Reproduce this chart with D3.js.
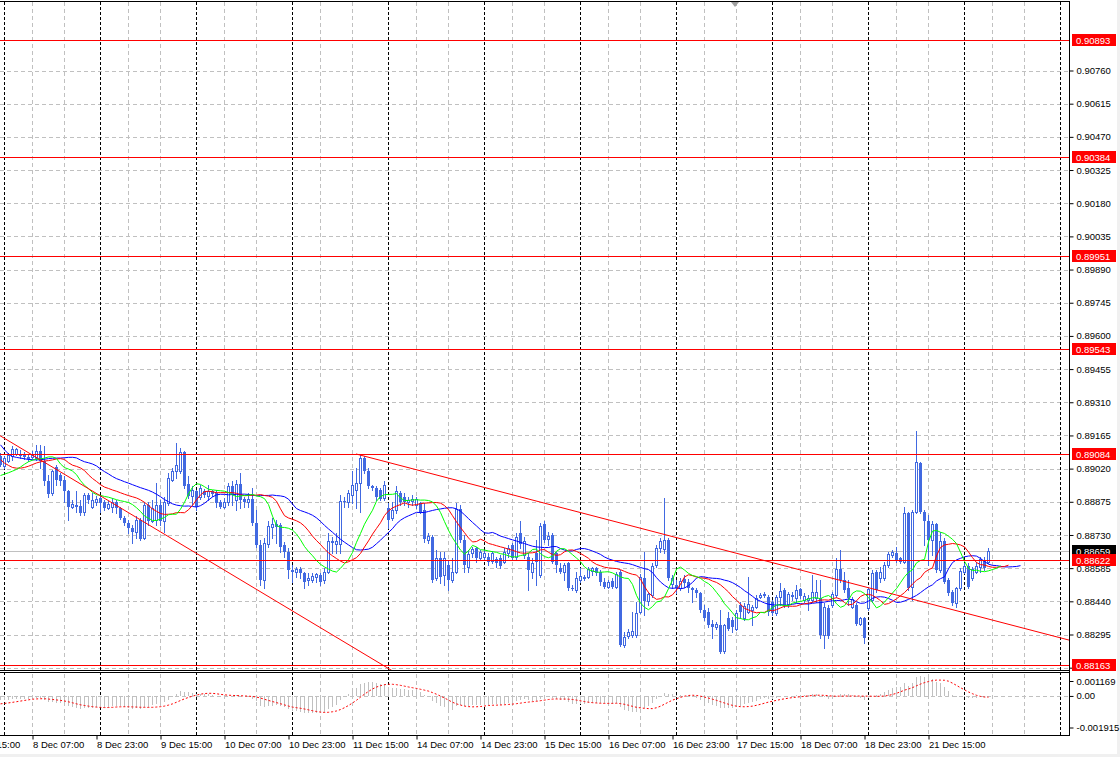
<!DOCTYPE html>
<html><head><meta charset="utf-8">
<script src="https://cdn.jsdelivr.net/npm/d3@7"></script>
<style>body{margin:0;background:#fff}svg{display:block}</style>
</head><body><script>
// ---------------- DATA (H1 bars, 7 Dec 23:00 .. 22 Dec 06:00) ----------------
const openP = [
0.89073,0.89030,0.89054,0.89073,0.89086,0.89086,0.89081,0.89072,0.89072,0.89066,
0.89098,0.89054,0.88967,0.88913,0.89025,0.88990,0.88971,0.88920,0.88854,0.88862,
0.88857,0.88829,0.88905,0.88854,0.88873,0.88891,0.88872,0.88850,0.88854,0.88873,
0.88847,0.88806,0.88784,0.88759,0.88742,0.88796,0.88716,0.88859,0.88792,0.88796,
0.88862,0.88789,0.88869,0.88971,0.89008,0.89008,0.89092,0.88952,0.88902,0.88920,
0.88898,0.88920,0.88902,0.88920,0.88913,0.88873,0.88854,0.88873,0.88946,0.88884,
0.88952,0.88888,0.88873,0.88888,0.88781,0.88684,0.88533,0.88689,0.88767,0.88777,
0.88774,0.88684,0.88657,0.88577,0.88570,0.88581,0.88562,0.88533,0.88533,0.88548,
0.88555,0.88533,0.88570,0.88704,0.88689,0.88689,0.88879,0.88876,0.88905,0.88927,
0.88957,0.89066,0.89008,0.88942,0.88935,0.88927,0.88891,0.88847,0.88803,0.88840,
0.88913,0.88898,0.88873,0.88879,0.88862,0.88869,0.88840,0.88708,0.88723,0.88540,
0.88628,0.88555,0.88599,0.88533,0.88570,0.88844,0.88708,0.88592,0.88650,0.88672,
0.88631,0.88635,0.88635,0.88616,0.88625,0.88631,0.88613,0.88650,0.88684,0.88635,
0.88737,0.88643,0.88635,0.88570,0.88650,0.88555,0.88777,0.88713,0.88730,0.88650,
0.88587,0.88570,0.88606,0.88500,0.88489,0.88533,0.88540,0.88548,0.88573,0.88584,
0.88570,0.88526,0.88504,0.88529,0.88504,0.88567,0.88251,0.88289,0.88292,0.88292,
0.88394,0.88543,0.88441,0.88467,0.88599,0.88672,0.88669,0.88708,0.88514,0.88511,
0.88497,0.88537,0.88526,0.88497,0.88489,0.88475,0.88402,0.88394,0.88343,0.88329,
0.88336,0.88222,0.88365,0.88358,0.88318,0.88424,0.88365,0.88394,0.88402,0.88416,
0.88460,0.88467,0.88460,0.88435,0.88387,0.88460,0.88489,0.88427,0.88467,0.88453,
0.88494,0.88445,0.88445,0.88445,0.88453,0.88453,0.88295,0.88412,0.88424,0.88467,
0.88581,0.88533,0.88497,0.88416,0.88424,0.88343,0.88368,0.88409,0.88445,0.88570,
0.88540,0.88540,0.88599,0.88643,0.88650,0.88628,0.88613,0.88825,0.88504,0.88832,
0.89044,0.88829,0.88789,0.88708,0.88777,0.88577,0.88704,0.88533,0.88482,0.88431,
0.88497,0.88570,0.88596,0.88540,0.88570,0.88592,0.88621,0.88613];
const highP = [
0.89088,0.89073,0.89088,0.89117,0.89110,0.89102,0.89092,0.89081,0.89095,0.89124,
0.89124,0.89121,0.88993,0.89015,0.89037,0.89000,0.88986,0.88927,0.88884,0.88920,
0.88884,0.88913,0.88913,0.88913,0.88902,0.88905,0.88884,0.88879,0.88891,0.88884,
0.88854,0.88815,0.88796,0.88774,0.88811,0.88803,0.88873,0.88876,0.88884,0.88957,
0.88884,0.88898,0.89000,0.89022,0.89132,0.89110,0.89098,0.88986,0.88942,0.88927,
0.88949,0.88932,0.88949,0.88927,0.88927,0.88884,0.88891,0.88957,0.88964,0.88971,
0.89000,0.88894,0.88913,0.88935,0.88840,0.88708,0.88716,0.88789,0.88803,0.88796,
0.88781,0.88701,0.88672,0.88599,0.88592,0.88592,0.88570,0.88562,0.88562,0.88562,
0.88562,0.88584,0.88737,0.88723,0.88737,0.88905,0.88898,0.88927,0.89008,0.89022,
0.89081,0.89073,0.89022,0.88949,0.88942,0.88935,0.88964,0.88869,0.88876,0.88942,
0.88920,0.88913,0.88898,0.88905,0.88898,0.88876,0.88869,0.88737,0.88730,0.88665,
0.88657,0.88657,0.88621,0.88628,0.88869,0.88862,0.88730,0.88665,0.88679,0.88679,
0.88665,0.88665,0.88650,0.88660,0.88635,0.88643,0.88672,0.88686,0.88694,0.88737,
0.88789,0.88723,0.88650,0.88628,0.88708,0.88781,0.88789,0.88742,0.88737,0.88657,
0.88606,0.88606,0.88613,0.88511,0.88570,0.88584,0.88555,0.88592,0.88592,0.88592,
0.88577,0.88540,0.88533,0.88540,0.88570,0.88577,0.88307,0.88318,0.88394,0.88438,
0.88558,0.88657,0.88482,0.88606,0.88686,0.88716,0.88891,0.88716,0.88555,0.88533,
0.88543,0.88555,0.88537,0.88504,0.88500,0.88482,0.88424,0.88409,0.88358,0.88351,
0.88402,0.88343,0.88394,0.88372,0.88402,0.88438,0.88431,0.88548,0.88424,0.88467,
0.88475,0.88482,0.88467,0.88445,0.88467,0.88519,0.88497,0.88482,0.88482,0.88511,
0.88500,0.88475,0.88467,0.88555,0.88533,0.88533,0.88431,0.88424,0.88482,0.88628,
0.88665,0.88570,0.88533,0.88460,0.88431,0.88372,0.88372,0.88504,0.88577,0.88577,
0.88592,0.88613,0.88657,0.88665,0.88679,0.88635,0.88854,0.88832,0.88840,0.89183,
0.89048,0.88840,0.88818,0.88789,0.88781,0.88745,0.88716,0.88540,0.88489,0.88504,
0.88584,0.88606,0.88606,0.88592,0.88613,0.88635,0.88635,0.88672];
const lowP = [
0.89030,0.89022,0.89048,0.89059,0.89078,0.89066,0.89063,0.89054,0.89066,0.89059,
0.89022,0.88949,0.88898,0.88905,0.88949,0.88949,0.88876,0.88796,0.88847,0.88829,
0.88818,0.88818,0.88869,0.88847,0.88862,0.88832,0.88840,0.88844,0.88832,0.88825,
0.88800,0.88774,0.88737,0.88694,0.88716,0.88708,0.88713,0.88774,0.88786,0.88774,
0.88774,0.88745,0.88862,0.88964,0.88978,0.89000,0.88935,0.88891,0.88862,0.88840,
0.88888,0.88898,0.88884,0.88902,0.88854,0.88847,0.88847,0.88862,0.88862,0.88840,
0.88847,0.88854,0.88854,0.88774,0.88679,0.88511,0.88497,0.88679,0.88716,0.88694,
0.88657,0.88635,0.88540,0.88526,0.88548,0.88540,0.88497,0.88511,0.88526,0.88526,
0.88511,0.88519,0.88562,0.88650,0.88650,0.88650,0.88854,0.88854,0.88869,0.88847,
0.88832,0.89000,0.88935,0.88927,0.88884,0.88884,0.88884,0.88759,0.88796,0.88825,
0.88862,0.88862,0.88854,0.88862,0.88847,0.88825,0.88701,0.88694,0.88526,0.88533,
0.88519,0.88511,0.88489,0.88526,0.88562,0.88701,0.88570,0.88570,0.88635,0.88613,
0.88621,0.88621,0.88599,0.88606,0.88592,0.88584,0.88606,0.88635,0.88621,0.88621,
0.88672,0.88628,0.88489,0.88540,0.88511,0.88548,0.88701,0.88686,0.88606,0.88570,
0.88562,0.88533,0.88489,0.88489,0.88482,0.88526,0.88533,0.88540,0.88555,0.88555,
0.88511,0.88497,0.88497,0.88497,0.88497,0.88245,0.88241,0.88278,0.88285,0.88285,
0.88387,0.88380,0.88424,0.88460,0.88592,0.88657,0.88650,0.88533,0.88497,0.88475,
0.88489,0.88504,0.88482,0.88438,0.88460,0.88394,0.88358,0.88329,0.88278,0.88321,
0.88212,0.88216,0.88314,0.88307,0.88314,0.88365,0.88358,0.88387,0.88336,0.88409,
0.88453,0.88460,0.88380,0.88380,0.88380,0.88424,0.88416,0.88416,0.88445,0.88438,
0.88453,0.88438,0.88402,0.88438,0.88438,0.88278,0.88234,0.88280,0.88416,0.88460,
0.88526,0.88482,0.88424,0.88409,0.88336,0.88336,0.88256,0.88402,0.88438,0.88482,
0.88526,0.88533,0.88592,0.88635,0.88613,0.88606,0.88606,0.88489,0.88445,0.88825,
0.88825,0.88686,0.88599,0.88643,0.88570,0.88570,0.88519,0.88467,0.88424,0.88416,
0.88489,0.88562,0.88497,0.88533,0.88562,0.88570,0.88577,0.88606];
const closeP = [
0.89037,0.89066,0.89078,0.89107,0.89104,0.89075,0.89070,0.89063,0.89081,0.89098,
0.89054,0.88964,0.88908,0.89008,0.88971,0.88964,0.88920,0.88854,0.88865,0.88851,
0.88825,0.88905,0.88884,0.88884,0.88888,0.88869,0.88850,0.88867,0.88876,0.88847,
0.88806,0.88781,0.88759,0.88742,0.88796,0.88713,0.88862,0.88792,0.88847,0.88862,
0.88789,0.88876,0.88978,0.89008,0.89037,0.89092,0.88942,0.88902,0.88927,0.88854,
0.88935,0.88905,0.88924,0.88908,0.88869,0.88854,0.88873,0.88946,0.88905,0.88952,
0.88884,0.88876,0.88888,0.88781,0.88686,0.88533,0.88694,0.88771,0.88777,0.88767,
0.88679,0.88657,0.88577,0.88567,0.88581,0.88562,0.88526,0.88543,0.88552,0.88558,
0.88526,0.88567,0.88704,0.88694,0.88704,0.88879,0.88876,0.88913,0.88949,0.88957,
0.89066,0.89008,0.88942,0.88935,0.88894,0.88888,0.88949,0.88796,0.88840,0.88923,
0.88873,0.88873,0.88884,0.88888,0.88888,0.88832,0.88713,0.88727,0.88533,0.88631,
0.88548,0.88631,0.88533,0.88567,0.88844,0.88708,0.88599,0.88646,0.88669,0.88628,
0.88654,0.88650,0.88613,0.88650,0.88606,0.88596,0.88654,0.88675,0.88631,0.88719,
0.88689,0.88704,0.88577,0.88606,0.88613,0.88771,0.88708,0.88727,0.88613,0.88599,
0.88570,0.88599,0.88497,0.88497,0.88543,0.88552,0.88546,0.88581,0.88584,0.88562,
0.88523,0.88504,0.88526,0.88504,0.88558,0.88248,0.88285,0.88304,0.88310,0.88391,
0.88548,0.88441,0.88470,0.88596,0.88675,0.88704,0.88708,0.88540,0.88543,0.88497,
0.88529,0.88519,0.88497,0.88489,0.88475,0.88402,0.88365,0.88336,0.88329,0.88339,
0.88219,0.88336,0.88321,0.88329,0.88391,0.88394,0.88421,0.88427,0.88416,0.88453,
0.88467,0.88472,0.88394,0.88387,0.88457,0.88486,0.88424,0.88472,0.88460,0.88491,
0.88464,0.88464,0.88456,0.88482,0.88482,0.88295,0.88416,0.88289,0.88470,0.88581,
0.88533,0.88489,0.88456,0.88450,0.88343,0.88365,0.88278,0.88494,0.88562,0.88489,
0.88570,0.88599,0.88646,0.88654,0.88621,0.88613,0.88825,0.88500,0.88829,0.89048,
0.88832,0.88789,0.88708,0.88777,0.88577,0.88704,0.88526,0.88475,0.88431,0.88497,
0.88573,0.88596,0.88504,0.88581,0.88596,0.88625,0.88584,0.88659];

// Alligator: values on screen before the first bar's own value (lead) and start values
const jawLead   = [0.89124,0.89102,0.89084,0.89073,0.89069,0.89066,0.89063,0.89060];
const teethLead = [0.89059,0.89044,0.89034,0.89025,0.89022];
const lipsLead  = [0.88990,0.88996,0.89002];
const jawStart = 0.89059, teethStart = 0.89022, lipsStart = 0.89009;
// MACD(12,26,9) start state (EMA offsets from the first close) and earlier main values
const emaFastStart = 0.00040, emaSlowStart = 0.00060, macdBefore = -0.00040;

const priceTicks = [0.88150,0.88295,0.88440,0.88585,0.88730,0.88875,0.89020,0.89165,0.89310,0.89455,
  0.89600,0.89745,0.89890,0.90035,0.90180,0.90325,0.90470,0.90615,0.90760];
const levelPrices = [0.90893,0.90384,0.89951,0.89543,0.89084,0.88622,0.88163];
const macdTicks = [0.001169, 0, -0.001915];
const timeLabels = ["7 Dec 15:00","8 Dec 07:00","8 Dec 23:00","9 Dec 15:00","10 Dec 07:00","10 Dec 23:00",
  "11 Dec 15:00","14 Dec 07:00","14 Dec 23:00","15 Dec 15:00","16 Dec 07:00","16 Dec 23:00",
  "17 Dec 15:00","18 Dec 07:00","18 Dec 23:00","21 Dec 15:00"];
const timeLabelBars = [-8,8,24,40,56,72,88,104,120,136,152,168,184,200,216,232];
const gridBars = [8,16,32,40,56,64,80,88,104,112,128,136,152,160,176,184,200,208,224,232,248,256];
const separatorBars = [1,25,49,73,97,121,145,169,193,217,241,265];
const trendLines = [
  {b1:0,  p1:0.89164, b2:90,  p2:0.88221, from:-6, to:120},
  {b1:89, p1:0.89084, b2:240, p2:0.88395, from:89, to:268}
];
const shiftMarkBar = 183.75;

// ---------------- LAYOUT ----------------
const W = 1120, H = 757, plotR = 1069;
const mainTop = 2, mainBot = 670, indTop = 673.5, indBot = 734, axisY = 735.5;
const BLUE = "#4169E1";
const FONT = "'Liberation Sans', Arial, sans-serif";

const svg = d3.select("body").append("svg").attr("width", W).attr("height", H)
  .attr("font-family", FONT);
svg.append("rect").attr("width", W).attr("height", H).attr("fill", "#fff");

const x = d3.scaleLinear().domain([0, 267.25]).range([0, plotR]);
const y = d3.scaleLinear().domain([0.88295, 0.90760]).range([634.5, 70.5]);
const yM = d3.scaleLinear().domain([-0.001915, 0.001169]).range([indBot, indTop]);
const px = b => Math.round(x(b)) + 0.5;

const defs = svg.append("defs");
defs.append("clipPath").attr("id", "cm").append("rect")
  .attr("x", 0).attr("y", mainTop).attr("width", plotR).attr("height", mainBot - mainTop);
defs.append("clipPath").attr("id", "ci").append("rect")
  .attr("x", 0).attr("y", indTop - 1).attr("width", plotR).attr("height", indBot - indTop + 2);

// grids
const gGrid = svg.append("g");
gGrid.selectAll("line.h").data(priceTicks).join("line")
  .attr("x1", 0).attr("x2", plotR)
  .attr("y1", d => Math.round(y(d)) + 0.5).attr("y2", d => Math.round(y(d)) + 0.5)
  .attr("stroke", "#c0c0c0").attr("stroke-dasharray", "4,3");
gGrid.append("line").attr("x1", 0).attr("x2", plotR)
  .attr("y1", Math.round(yM(0)) + 0.5).attr("y2", Math.round(yM(0)) + 0.5)
  .attr("stroke", "#c0c0c0").attr("stroke-dasharray", "4,3");
gGrid.selectAll("line.v").data(gridBars).join("line")
  .attr("x1", d => px(d)).attr("x2", d => px(d))
  .attr("y1", mainTop).attr("y2", axisY)
  .attr("stroke", "#c0c0c0").attr("stroke-dasharray", "4,3");
gGrid.selectAll("line.s").data(separatorBars).join("line")
  .attr("x1", d => px(d)).attr("x2", d => px(d))
  .attr("y1", mainTop).attr("y2", axisY)
  .attr("stroke", "#000").attr("stroke-dasharray", "3,2");

// main pane content
const gMain = svg.append("g").attr("clip-path", "url(#cm)");
const lastClose = closeP[closeP.length - 1];
gMain.append("line").attr("x1", 0).attr("x2", plotR)
  .attr("y1", Math.round(y(lastClose)) + 0.5).attr("y2", Math.round(y(lastClose)) + 0.5)
  .attr("stroke", "#c0c0c0");

const bars = openP.map((o, i) => ({i, o, h: highP[i], l: lowP[i], c: closeP[i]}));
const cg = gMain.append("g").selectAll("g").data(bars).join("g");
cg.append("line")
  .attr("x1", d => px(d.i)).attr("x2", d => px(d.i))
  .attr("y1", d => Math.round(y(d.h))).attr("y2", d => Math.round(y(d.l)) + 1)
  .attr("stroke", BLUE);
cg.each(function(d) {
  const g = d3.select(this);
  const cx = Math.round(x(d.i));
  const yo = Math.round(y(d.o)), yc = Math.round(y(d.c));
  if (d.c > d.o) {
    g.append("rect").attr("x", cx - 0.5).attr("y", yc + 0.5)
      .attr("width", 2).attr("height", Math.max(yo - yc, 1))
      .attr("fill", "#fff").attr("stroke", BLUE);
  } else {
    g.append("rect").attr("x", cx - 1).attr("y", yo)
      .attr("width", 3).attr("height", Math.max(yc - yo, 1))
      .attr("fill", BLUE);
  }
});

// alligator
const median = bars.map(d => (d.h + d.l) / 2);
function smma(n, start) {
  const out = [start];
  for (let i = 1; i < median.length; i++) out.push((out[i - 1] * (n - 1) + median[i]) / n);
  return out;
}
const jawPlot = jawLead.concat(smma(13, jawStart));
const teethPlot = teethLead.concat(smma(8, teethStart));
const lipsPlot = lipsLead.concat(smma(5, lipsStart));
const lineGen = d3.line().x((d, j) => px(j)).y(d => y(d));
[[jawPlot, "#0000ff"], [teethPlot, "#ff0000"], [lipsPlot, "#00ff00"]].forEach(([s, col]) => {
  gMain.append("path").attr("d", lineGen(s)).attr("fill", "none").attr("stroke", col).attr("stroke-width", 1);
});

// objects: horizontal levels and trend lines
gMain.selectAll("line.lv").data(levelPrices).join("line")
  .attr("x1", 0).attr("x2", plotR)
  .attr("y1", d => Math.round(y(d)) + 0.5).attr("y2", d => Math.round(y(d)) + 0.5)
  .attr("stroke", "#ff0000");
const tp = (t, b) => t.p1 + (t.p2 - t.p1) * (b - t.b1) / (t.b2 - t.b1);
gMain.selectAll("line.tl").data(trendLines).join("line")
  .attr("x1", t => x(t.from)).attr("y1", t => y(tp(t, t.from)))
  .attr("x2", t => x(t.to)).attr("y2", t => y(tp(t, t.to)))
  .attr("stroke", "#ff0000");

// shift marker
svg.append("path")
  .attr("d", `M${x(shiftMarkBar) - 4},${mainTop} L${x(shiftMarkBar) + 4},${mainTop} L${x(shiftMarkBar)},${mainTop + 5} Z`)
  .attr("fill", "#a0a0a0");

// MACD
function ema(src, n, start) {
  const a = 2 / (n + 1), out = [start];
  for (let i = 1; i < src.length; i++) out.push(out[i - 1] + a * (src[i] - out[i - 1]));
  return out;
}
const eF = ema(closeP, 12, closeP[0] + emaFastStart);
const eS = ema(closeP, 26, closeP[0] + emaSlowStart);
const macd = eF.map((v, i) => v - eS[i]);
const signal = macd.map((v, i) => {
  let s = 0;
  for (let j = i - 8; j <= i; j++) s += j < 0 ? macdBefore : macd[j];
  return s / 9;
});
const gInd = svg.append("g").attr("clip-path", "url(#ci)");
gInd.selectAll("line.hist").data(macd).join("line")
  .attr("x1", (d, i) => px(i)).attr("x2", (d, i) => px(i))
  .attr("y1", Math.round(yM(0))).attr("y2", d => Math.round(yM(d)))
  .attr("stroke", "#c0c0c0");
gInd.append("path").attr("d", d3.line().x((d, i) => px(i)).y(d => yM(d))(signal))
  .attr("fill", "none").attr("stroke", "#ff0000").attr("stroke-dasharray", "2,2");

// frame
const frame = svg.append("g").attr("stroke", "#000").attr("shape-rendering", "crispEdges");
frame.append("line").attr("x1", 0).attr("x2", plotR).attr("y1", 1.5).attr("y2", 1.5);
frame.append("line").attr("x1", 0).attr("x2", plotR).attr("y1", mainBot + 0.5).attr("y2", mainBot + 0.5);
frame.append("line").attr("x1", 0).attr("x2", plotR).attr("y1", 672.5).attr("y2", 672.5);
frame.append("line").attr("x1", 0).attr("x2", plotR).attr("y1", axisY).attr("y2", axisY);
frame.append("line").attr("x1", plotR + 0.5).attr("x2", plotR + 0.5).attr("y1", 1).attr("y2", axisY);
svg.append("rect").attr("x", 0).attr("y", H - 3).attr("width", W).attr("height", 3).attr("fill", "#f0f0f0");
svg.append("rect").attr("x", W - 3).attr("y", 0).attr("width", 3).attr("height", H).attr("fill", "#f0f0f0");

// price axis
const axP = svg.append("g").attr("transform", `translate(${plotR + 0.5},0)`)
  .call(d3.axisRight(y).tickValues(priceTicks).tickSize(4).tickPadding(3).tickFormat(d3.format(".5f")));
axP.select(".domain").remove();
axP.attr("font-family", FONT).attr("font-size", 9.5);
axP.selectAll(".tick line").attr("stroke", "#000");
axP.selectAll(".tick text").attr("fill", "#000");

// MACD axis
const axM = svg.append("g").attr("transform", `translate(${plotR + 0.5},0)`)
  .call(d3.axisRight(yM).tickValues(macdTicks).tickSize(4).tickPadding(3)
    .tickFormat(d => d === 0 ? "0.00" : String(d)));
axM.select(".domain").remove();
axM.attr("font-family", FONT).attr("font-size", 9.5);
axM.selectAll(".tick").attr("transform", d => `translate(0,${yM(d) + (d > 0 ? 8 : d < 0 ? -6 : 0)})`);
axM.selectAll(".tick line").attr("stroke", "#000");
axM.selectAll(".tick text").attr("fill", "#000");

// bid label then level labels
function priceLabel(p, bg) {
  const yy = Math.round(y(p));
  svg.append("rect").attr("x", plotR + 3).attr("y", yy - 6).attr("width", 44).attr("height", 12).attr("fill", bg);
  svg.append("text").attr("x", plotR + 7).attr("y", yy + 3.5).attr("fill", "#fff")
    .attr("font-size", 9.5).text(d3.format(".5f")(p));
}
priceLabel(lastClose, "#000");
levelPrices.forEach(p => priceLabel(p, "#ff0000"));

// time axis
const axT = svg.append("g").attr("transform", `translate(0.5,${axisY})`)
  .call(d3.axisBottom(x).tickValues(timeLabelBars).tickSize(4).tickPadding(2)
    .tickFormat((d, i) => timeLabels[i]));
axT.select(".domain").remove();
axT.attr("font-family", FONT).attr("font-size", 9.5).attr("text-anchor", "start");
axT.selectAll(".tick line").attr("stroke", "#000");
axT.selectAll(".tick text").attr("fill", "#000").attr("x", 0);
</script></body></html>
